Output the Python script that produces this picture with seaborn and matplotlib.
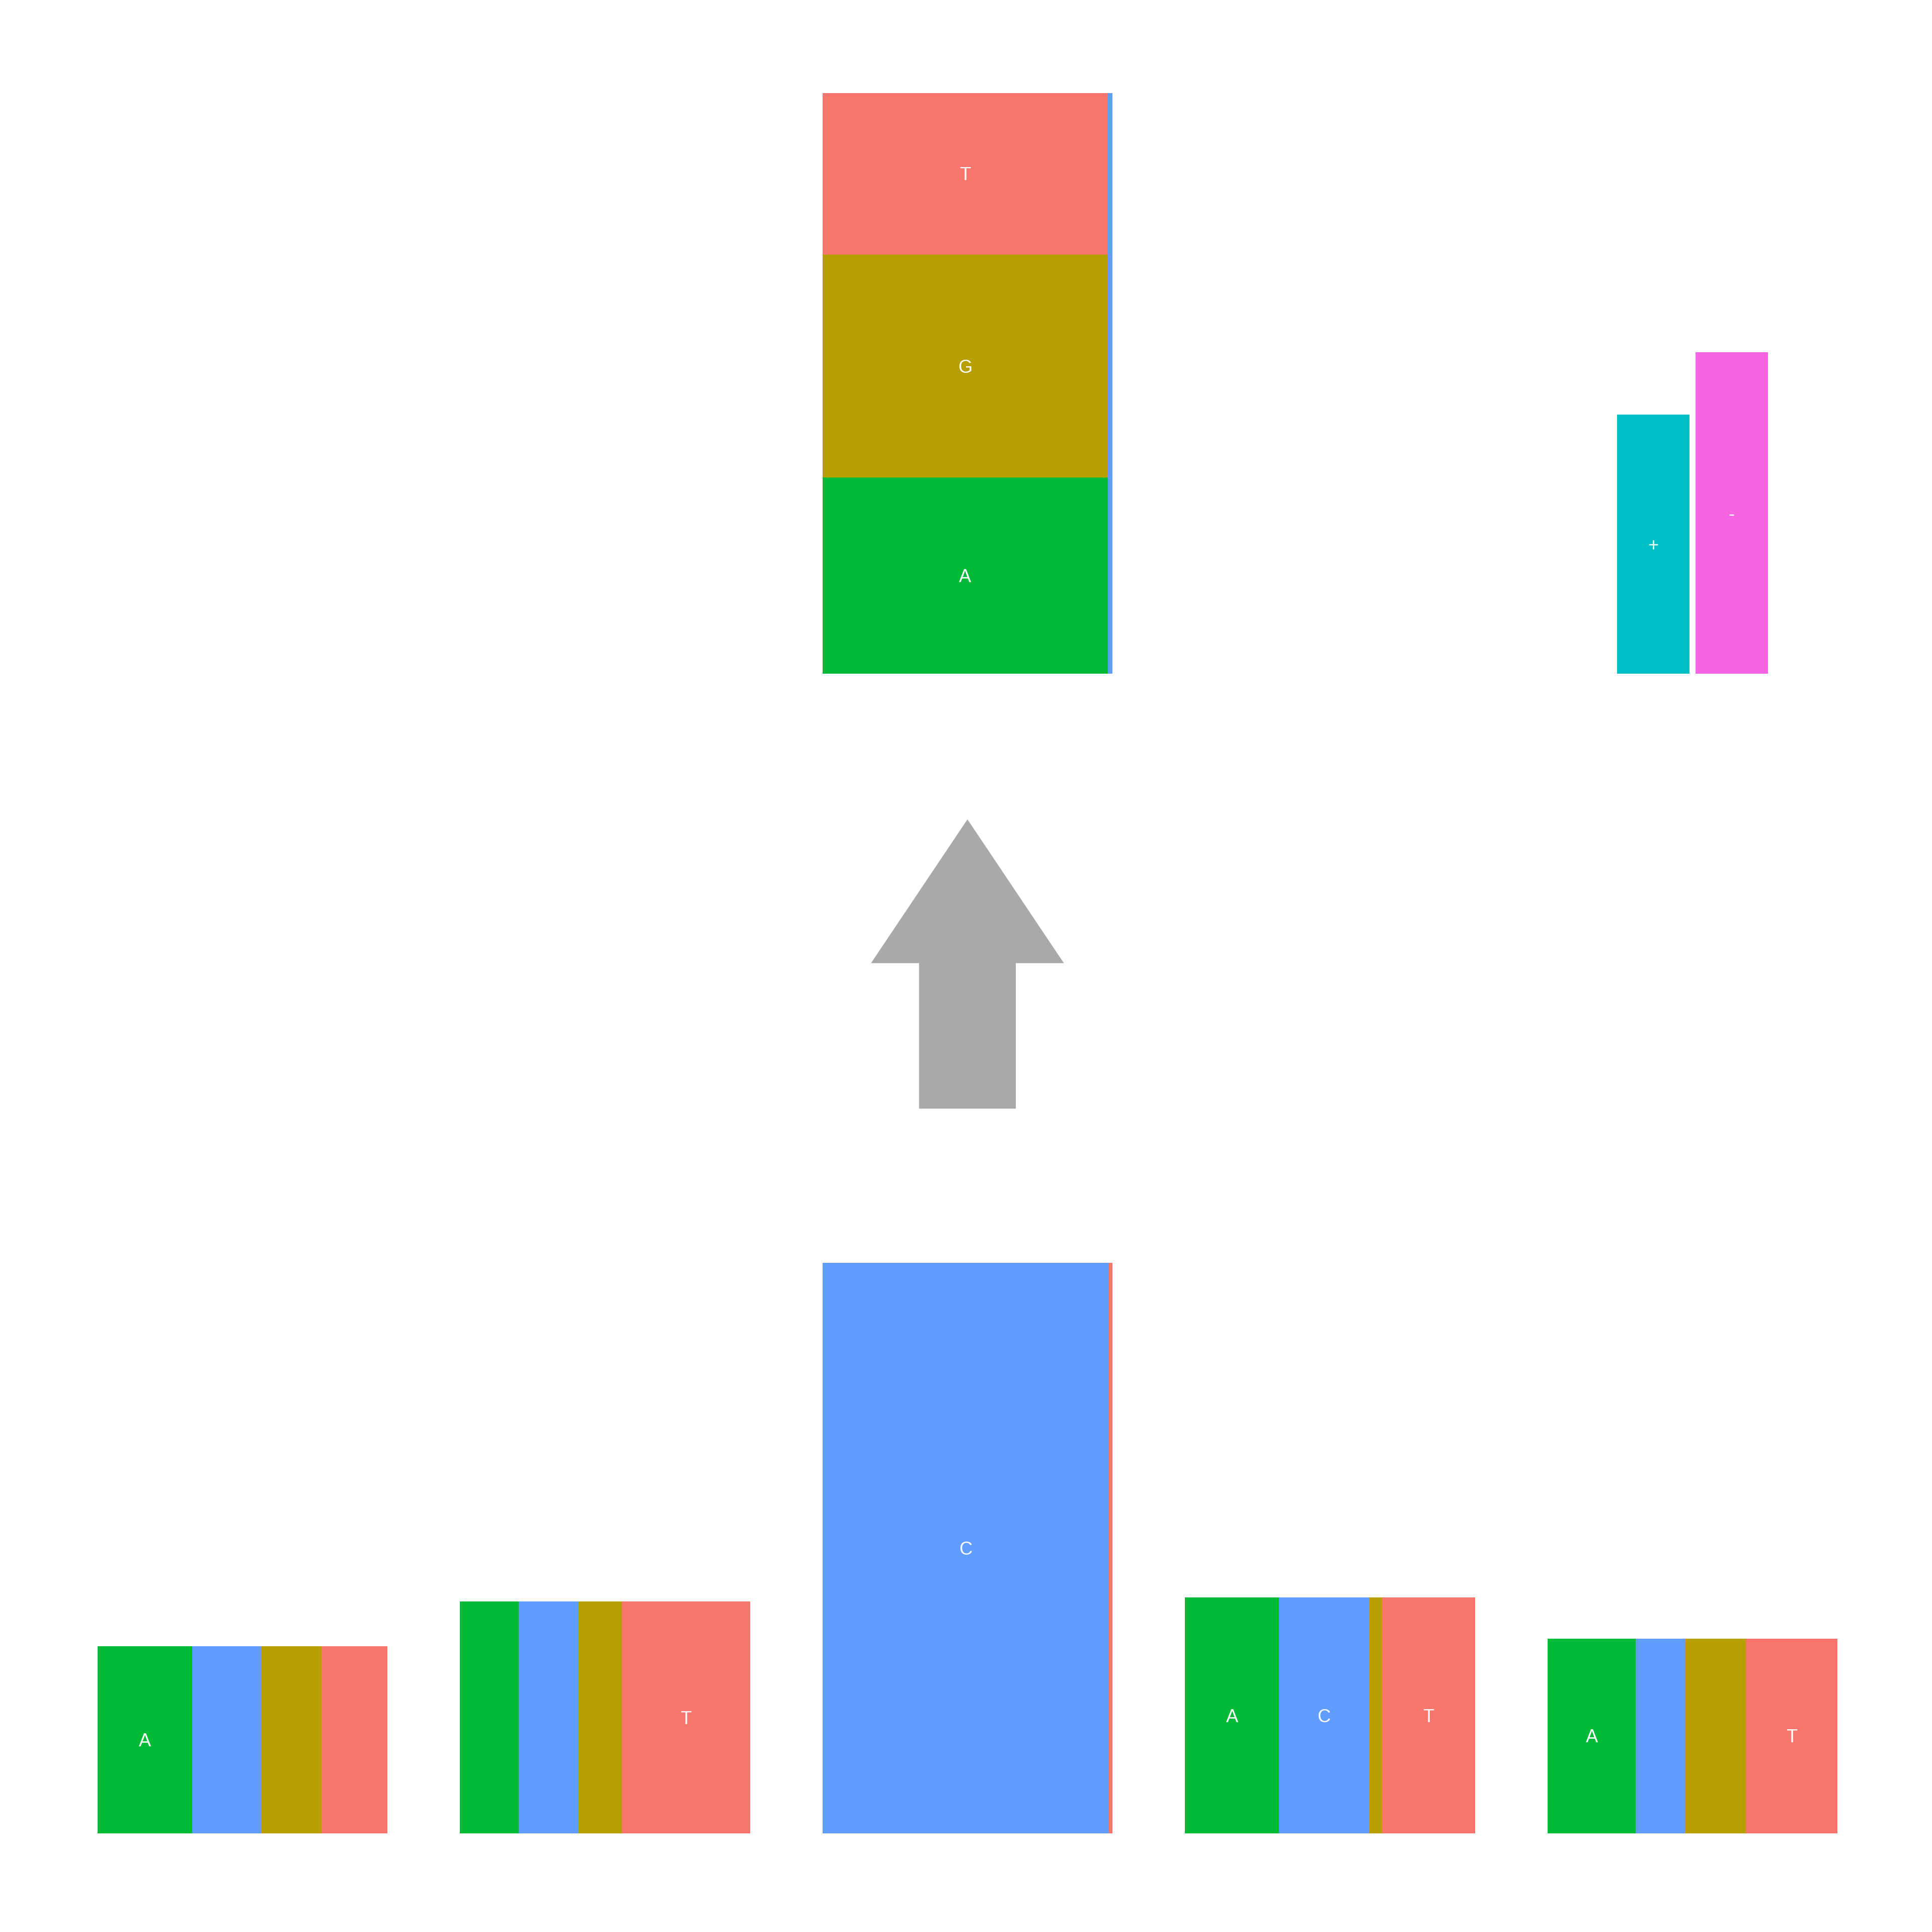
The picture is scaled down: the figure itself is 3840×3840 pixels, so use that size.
import numpy as np
import matplotlib.pyplot as plt
import seaborn as sns
from matplotlib.patches import FancyArrow

# bases and their colours (ggplot-like hue palette)
bases = ["A", "C", "G", "T"]
base_colors = {"A": "#00BA38", "C": "#619CFF", "G": "#B79F00", "T": "#F8766D"}

# bottom logo: side-by-side base fractions per position, and column height
positions = [1, 2, 3, 4, 5]
frac_A = [0.326, 0.203, 0.000, 0.325, 0.305]
frac_C = [0.238, 0.206, 0.987, 0.309, 0.170]
frac_G = [0.209, 0.149, 0.000, 0.046, 0.209]
frac_T = [0.227, 0.442, 0.013, 0.320, 0.316]
col_height = [0.328, 0.406, 1.000, 0.413, 0.341]

# top logo (one column above position 3): stacked A/G/T, C as thin strip
top_bases = ["A", "G", "T"]
top_frac = [0.338, 0.384, 0.278]
top_c_width = 0.016
top_height = 1.018

# strand bars (above position 5)
strands = ["+", "-"]
strand_height = [0.454, 0.564]
strand_colors = ["#00BFC4", "#F564E3"]

sns.set_theme(style="white")
plt.rcParams["font.family"] = ["Liberation Sans", "DejaVu Sans"]

fig = plt.figure(figsize=(12.8, 12.8), dpi=300)
ax = fig.add_axes([0, 0, 1, 1])
ax.set_xlim(-0.669, 4.661)
ax.set_ylim(-0.173, 3.213)
ax.axis("off")

col_w = 0.8
min_label = 0.25
fs = 8.7
cap_half = 0.0115  # half cap height in y units, so letters sit centred


def label(x, y, s):
    ax.text(x, y - cap_half, s, color="white", ha="center", va="baseline",
            fontsize=fs)


# bottom row
fracs = np.array([frac_A, frac_C, frac_G, frac_T]).T
for i, pos in enumerate(positions):
    x0 = i - col_w / 2
    lefts = x0 + col_w * np.concatenate([[0], np.cumsum(fracs[i])[:-1]])
    for b, left, f in zip(bases, lefts, fracs[i]):
        if f <= 0:
            continue
        ax.bar(left, col_height[i], width=col_w * f, align="edge",
               color=base_colors[b], linewidth=0)
        if f > min_label:
            label(left + col_w * f / 2, col_height[i] / 2, b)

# top logo
top_base = 2.032
tx = 2
main_w = col_w * (1 - top_c_width)
x0 = tx - col_w / 2
bottoms = top_base + top_height * np.concatenate([[0], np.cumsum(top_frac)[:-1]])
for b, bot, f in zip(top_bases, bottoms, top_frac):
    ax.bar(x0, top_height * f, width=main_w, bottom=bot, align="edge",
           color=base_colors[b], linewidth=0)
    if f > min_label:
        label(x0 + main_w / 2, bot + top_height * f / 2, b)
ax.bar(x0 + main_w, top_height, width=col_w * top_c_width, bottom=top_base,
       align="edge", color=base_colors["C"], linewidth=0)

# strand bars
bar_w = 0.2
gap = 0.016
for k, (s, h, c) in enumerate(zip(strands, strand_height, strand_colors)):
    cx = 4 + (k - 0.5) * (bar_w + gap)
    ax.bar(cx, h, width=bar_w, bottom=top_base, color=c, linewidth=0)
    label(cx, top_base + h / 2, s)

# arrow between the two logos
arrow = FancyArrow(2, 1.270, 0, 0.507, width=0.267, head_width=0.532,
                   head_length=0.252, length_includes_head=True,
                   color="#A9A9A9", linewidth=0)
ax.add_patch(arrow)

fig.savefig("out.png", dpi=300, facecolor="white")
